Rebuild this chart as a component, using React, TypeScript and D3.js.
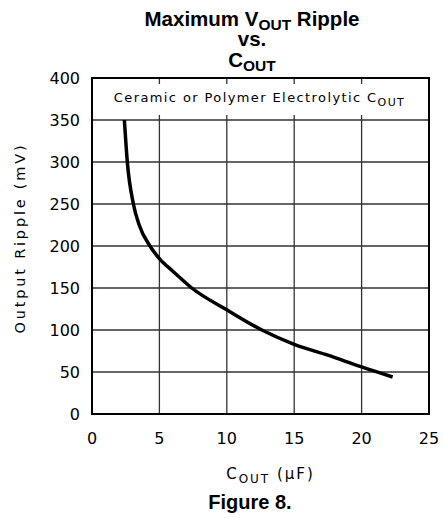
import { useEffect, useRef } from 'react';
import * as d3 from 'd3';

// C_OUT (uF) vs maximum output ripple (mV)
const cOut = [2.4, 2.62, 3.07, 3.5, 4.3, 5, 6, 7.4, 10, 12.6, 15, 17.5, 20, 22.3];
const ripple = [350, 300, 250, 225, 200, 185, 170, 150, 124, 100, 83, 70, 56, 44];

const xTicks = [0, 5, 10, 15, 20, 25];
const yTicks = [0, 50, 100, 150, 200, 250, 300, 350, 400];

const W = 443;
const H = 518;

export default function App() {
  const svgRef = useRef<SVGSVGElement>(null);

  useEffect(() => {
    if (!svgRef.current) return;
    const svg = d3.select(svgRef.current);
    svg.selectAll('*').remove();

    const margin = { top: 78, right: 14, bottom: 104, left: 92 };
    const width = W - margin.left - margin.right;
    const height = H - margin.top - margin.bottom;
    const tickFont = 'DejaVu Sans, sans-serif';
    const titleFont = 'Liberation Sans, Arial, sans-serif';

    const x = d3.scaleLinear().domain([0, 25]).range([0, width]);
    const y = d3.scaleLinear().domain([0, 400]).range([height, 0]);

    const g = svg.append('g').attr('transform', `translate(${margin.left},${margin.top})`);

    // horizontal grid
    g.selectAll('.hgrid')
      .data(yTicks.slice(1, -1))
      .enter()
      .append('line')
      .attr('x1', 0)
      .attr('x2', width)
      .attr('y1', d => y(d))
      .attr('y2', d => y(d))
      .attr('stroke', '#333')
      .attr('stroke-width', 1.3);

    // vertical grid stops under the label band
    const inner = xTicks.slice(1, -1);
    g.selectAll('.vgrid')
      .data(inner)
      .enter()
      .append('line')
      .attr('x1', d => x(d))
      .attr('x2', d => x(d))
      .attr('y1', y(350))
      .attr('y2', height)
      .attr('stroke', '#333')
      .attr('stroke-width', 1.3);

    // short ticks inside the band
    inner.forEach(d => {
      g.append('line')
        .attr('x1', x(d)).attr('x2', x(d))
        .attr('y1', 0).attr('y2', 6)
        .attr('stroke', '#333').attr('stroke-width', 1.3);
      g.append('line')
        .attr('x1', x(d)).attr('x2', x(d))
        .attr('y1', y(350) - 5).attr('y2', y(350))
        .attr('stroke', '#333').attr('stroke-width', 1.3);
    });

    // frame
    g.append('rect')
      .attr('width', width)
      .attr('height', height)
      .attr('fill', 'none')
      .attr('stroke', '#000')
      .attr('stroke-width', 2);

    // band label
    const band = g.append('text')
      .attr('x', x(12.5) - 1)
      .attr('y', y(375) + 3)
      .attr('text-anchor', 'middle')
      .style('font-family', tickFont)
      .style('font-size', '13px')
      .style('letter-spacing', '1.4px')
      .text('Ceramic or Polymer Electrolytic C');
    band.append('tspan').attr('dy', 4).style('font-size', '11px').text('OUT');

    // curve
    const pts: [number, number][] = cOut.map((c, i) => [c, ripple[i]]);
    g.append('path')
      .datum(pts)
      .attr('fill', 'none')
      .attr('stroke', '#000')
      .attr('stroke-width', 3.5)
      .attr('d', d3.line<[number, number]>()
        .x(d => x(d[0]))
        .y(d => y(d[1]))
        .curve(d3.curveMonotoneX));

    // tick labels
    g.selectAll('.ylab')
      .data(yTicks)
      .enter()
      .append('text')
      .attr('x', -12)
      .attr('y', d => y(d) + 6)
      .attr('text-anchor', 'end')
      .style('font-family', tickFont)
      .style('font-size', '16px')
      .text(d => d);

    g.selectAll('.xlab')
      .data(xTicks)
      .enter()
      .append('text')
      .attr('x', d => x(d))
      .attr('y', height + 30)
      .attr('text-anchor', 'middle')
      .style('font-family', tickFont)
      .style('font-size', '16px')
      .text(d => d);

    // axis titles
    g.append('text')
      .attr('transform', `translate(${-67},${height / 2 - 8}) rotate(-90)`)
      .attr('text-anchor', 'middle')
      .style('font-family', tickFont)
      .style('font-size', '14.5px')
      .style('letter-spacing', '2.8px')
      .text('Output Ripple (mV)');

    const xt = g.append('text')
      .attr('x', x(12.5) + 10)
      .attr('y', height + 65)
      .attr('text-anchor', 'middle')
      .style('font-family', tickFont)
      .style('font-size', '15px')
      .style('letter-spacing', '2px');
    xt.append('tspan').text('C');
    xt.append('tspan').attr('dy', 4).style('font-size', '12px').text('OUT');
    xt.append('tspan').attr('dy', -4).text(' (\u03bcF)');

    // title
    const title = svg.append('g').style('font-family', titleFont).style('font-weight', 'bold');
    const t1 = title.append('text').attr('x', 252).attr('y', 26).attr('text-anchor', 'middle').style('font-size', '20.5px');
    t1.append('tspan').text('Maximum V');
    t1.append('tspan').attr('dy', 4).style('font-size', '15.5px').text('OUT');
    t1.append('tspan').attr('dy', -4).text(' Ripple');
    title.append('text').attr('x', 252).attr('y', 46).attr('text-anchor', 'middle').style('font-size', '20.5px').text('vs.');
    const t3 = title.append('text').attr('x', 252).attr('y', 67).attr('text-anchor', 'middle').style('font-size', '20.5px');
    t3.append('tspan').text('C');
    t3.append('tspan').attr('dy', 4).style('font-size', '15.5px').text('OUT');

    svg.append('text')
      .attr('x', 250)
      .attr('y', 509)
      .attr('text-anchor', 'middle')
      .style('font-family', titleFont)
      .style('font-weight', 'bold')
      .style('font-size', '20px')
      .text('Figure 8.');
  }, []);

  return (
    <svg
      ref={svgRef}
      width={W}
      height={H}
      style={{ position: 'absolute', left: 0, top: 0, background: '#fff' }}
    />
  );
}
